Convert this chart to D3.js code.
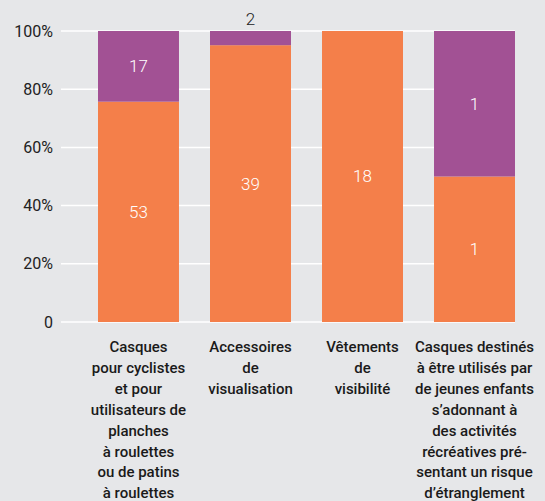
<!DOCTYPE html>
<html><head><meta charset="utf-8">
<script src="https://cdn.jsdelivr.net/npm/d3@7"></script>
<style>
html,body{margin:0;padding:0;background:#e6e7e9;}
svg{display:block;}
</style></head>
<body>
<svg id="chart" width="545" height="501"></svg>
<script>
const categories = [
  ["Casques","pour cyclistes","et pour","utilisateurs de","planches","à roulettes","ou de patins","à roulettes"],
  ["Accessoires","de","visualisation"],
  ["Vêtements","de","visibilité"],
  ["Casques destinés","à être utilisés par","de jeunes enfants","s’adonnant à","des activités","récréatives pré-","sentant un risque","d’étranglement"]
];
const orangeValues = [53, 39, 18, 1];
const purpleValues = [17, 2, 0, 1];
const yTicks = [0, 0.2, 0.4, 0.6, 0.8, 1];
const yTickLabels = ["0", "20%", "40%", "60%", "80%", "100%"];
const colors = {orange: "#f47f4a", purple: "#a25194"};

const svg = d3.select("#chart");
const x = d3.scaleBand().domain(d3.range(categories.length)).range([98, 515]).paddingInner(0.277).paddingOuter(0);
const y = d3.scaleLinear().domain([0, 1]).range([322, 31]);

// grid
svg.append("g").selectAll("line").data(yTicks).join("line")
  .attr("x1", 61).attr("x2", 515)
  .attr("y1", d => y(d)).attr("y2", d => y(d))
  .attr("stroke", "#ffffff").attr("stroke-width", 1.5);

// y labels
svg.append("g").selectAll("text").data(yTicks).join("text")
  .attr("x", 53).attr("y", d => y(d)).attr("dy", "0.35em")
  .attr("text-anchor", "end")
  .attr("font-family", "Roboto, 'Open Sans', sans-serif").attr("font-size", 16)
  .attr("fill", "#222")
  .text((d, i) => yTickLabels[i]);

const data = categories.map((c, i) => {
  const t = orangeValues[i] + purpleValues[i];
  return {i, o: orangeValues[i], p: purpleValues[i], of: orangeValues[i] / t, pf: purpleValues[i] / t};
});

const g = svg.append("g");
// orange
g.selectAll("rect.o").data(data).join("rect").attr("class", "o")
  .attr("x", d => x(d.i)).attr("width", x.bandwidth())
  .attr("y", d => y(d.of)).attr("height", d => y(0) - y(d.of))
  .attr("fill", colors.orange);
// purple
g.selectAll("rect.p").data(data.filter(d => d.p > 0)).join("rect").attr("class", "p")
  .attr("x", d => x(d.i)).attr("width", x.bandwidth())
  .attr("y", d => y(1)).attr("height", d => y(d.of) - y(1))
  .attr("fill", colors.purple);

const lblFont = "Roboto, 'Open Sans', sans-serif";
// orange labels
g.selectAll("text.ol").data(data).join("text").attr("class", "ol")
  .attr("x", d => x(d.i) + x.bandwidth() / 2)
  .attr("y", d => (y(0) + y(d.of)) / 2).attr("dy", "0.35em")
  .attr("text-anchor", "middle").attr("font-family", lblFont).attr("font-size", 17).attr("font-weight", 300)
  .attr("fill", "#fff").text(d => d.o);
// purple labels
g.selectAll("text.pl").data(data.filter(d => d.p > 0)).join("text").attr("class", "pl")
  .attr("x", d => x(d.i) + x.bandwidth() / 2)
  .attr("y", d => (y(d.of) - y(1)) < 20 ? y(1) - 12 : (y(1) + y(d.of)) / 2)
  .attr("dy", "0.35em")
  .attr("text-anchor", "middle").attr("font-family", lblFont).attr("font-size", 17).attr("font-weight", 300)
  .attr("fill", d => (y(d.of) - y(1)) < 20 ? "#222" : "#fff").text(d => d.p);

// category labels
const cat = svg.append("g").selectAll("text").data(categories).join("text")
  .attr("x", (d, i) => x(i) + x.bandwidth() / 2)
  .attr("y", 352)
  .attr("text-anchor", "middle")
  .attr("font-family", "Roboto, sans-serif").attr("font-size", 15).attr("font-weight", 500)
  .attr("fill", "#1a1a1a");
cat.selectAll("tspan").data(d => d).join("tspan")
  .attr("x", function() { return this.parentNode.getAttribute("x"); })
  .attr("dy", (d, i) => i === 0 ? 0 : 20.9)
  .text(d => d);
</script>
</body></html>
